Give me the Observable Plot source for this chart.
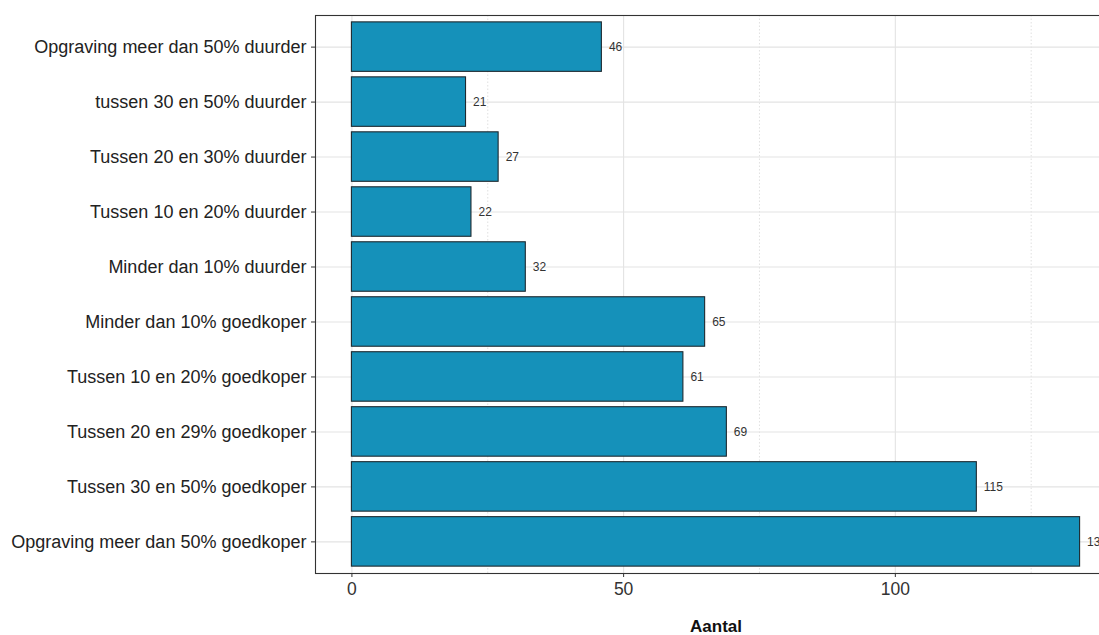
<!DOCTYPE html>
<html>
<head>
<meta charset="utf-8">
<script src="https://cdn.jsdelivr.net/npm/d3@7"></script>
<script src="https://cdn.jsdelivr.net/npm/@observablehq/plot@0.6"></script>
<style>
  html, body { margin: 0; padding: 0; overflow: hidden; background: #fff; width: 1099px; height: 635px; }
  #chart { width: 1099px; height: 635px; overflow: hidden; }
  #chart svg { display: block; max-width: none !important; }
</style>
</head>
<body>
<div id="chart"></div>
<script>
const categories = [
  "Opgraving meer dan 50% duurder",
  "tussen 30 en 50% duurder",
  "Tussen 20 en 30% duurder",
  "Tussen 10 en 20% duurder",
  "Minder dan 10% duurder",
  "Minder dan 10% goedkoper",
  "Tussen 10 en 20% goedkoper",
  "Tussen 20 en 29% goedkoper",
  "Tussen 30 en 50% goedkoper",
  "Opgraving meer dan 50% goedkoper"
];
const counts = [46, 21, 27, 22, 32, 65, 61, 69, 115, 134];
const majorTicks = [0, 50, 100];
const minorTicks = [25, 75, 125];

const data = categories.map((c, i) => ({cat: c, n: counts[i]}));
const maxVal = d3.max(counts);
const pad = maxVal * 0.05;

const chart = Plot.plot({
  width: 1116,
  height: 635,
  marginLeft: 315,
  marginRight: 0,
  marginTop: 15,
  marginBottom: 62,
  style: {fontFamily: "'Liberation Sans', Arial, sans-serif", background: "#fff", maxWidth: "none"},
  x: {domain: [-pad, maxVal + pad], label: null},
  y: {domain: categories, paddingInner: 0.1, paddingOuter: 0.125, round: false, label: null},
  marks: [
    Plot.gridX(minorTicks, {stroke: "#d9d9d9", strokeOpacity: 1, strokeWidth: 0.8, strokeDasharray: "1.5,2"}),
    Plot.gridX(majorTicks, {stroke: "#e3e3e3", strokeOpacity: 1, strokeWidth: 1.1}),
    Plot.gridY({stroke: "#e3e3e3", strokeOpacity: 1, strokeWidth: 1.1}),
    Plot.barX(data, {x: "n", y: "cat", fill: "#1591ba", stroke: "#1e2a30", strokeWidth: 1.1}),
    Plot.text(data, {x: "n", y: "cat", text: d => String(d.n), dx: 7, textAnchor: "start", fontSize: 12, fill: "#333"}),
    Plot.frame({stroke: "#333", strokeWidth: 1.1}),
    Plot.axisX(majorTicks, {tickSize: 4, tickPadding: 5, fontSize: 17.5, stroke: "#333", fill: "#333", label: null}),
    Plot.axisY({tickSize: 4, tickPadding: 5, fontSize: 18, stroke: "#333", fill: "#222", label: null}),
    Plot.axisX({ticks: [], label: "Aantal", labelAnchor: "center", labelArrow: "none", labelOffset: 58, fontSize: 17, fontWeight: "bold", fill: "#111"})
  ]
});
document.getElementById("chart").appendChild(chart);
</script>
</body>
</html>
